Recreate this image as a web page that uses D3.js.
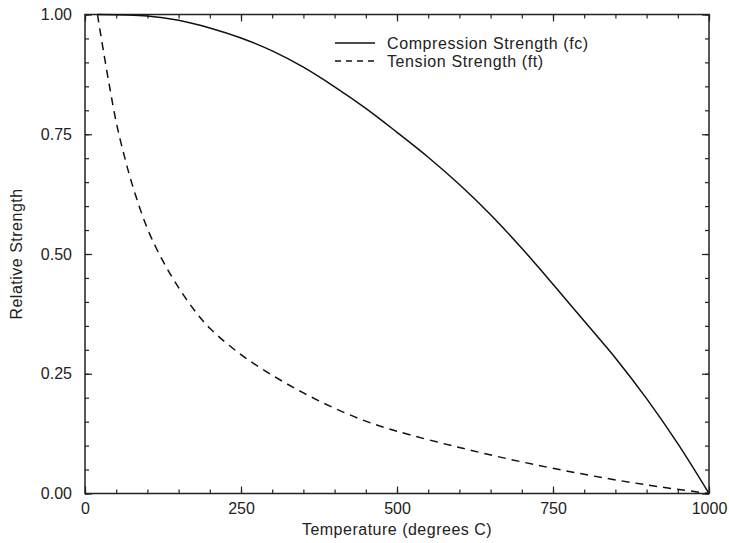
<!DOCTYPE html>
<html>
<head>
<meta charset="utf-8">
<script src="https://cdn.jsdelivr.net/npm/d3@7"></script>
<style>
  body { margin: 0; background: #fff; }
  svg { display: block; }
  text { font-family: "Liberation Sans", Arial, Helvetica, sans-serif; fill: #222; }
</style>
</head>
<body>
<svg id="chart" width="729" height="543"></svg>
<script>
// temperature (degrees C) for each curve
var compTemps = [20, 100, 150, 200, 250, 300, 350, 400, 450, 500, 550, 600, 650, 700, 750, 800, 850, 900, 950, 1000];
var compValues = [1.0, 0.997, 0.988, 0.972, 0.951, 0.924, 0.89, 0.849, 0.804, 0.754, 0.702, 0.645, 0.582, 0.512, 0.437, 0.36, 0.283, 0.198, 0.104, 0.0];

var tensTemps = [20, 30, 40, 50, 60, 75, 100, 125, 150, 175, 200, 250, 300, 350, 400, 450, 500, 600, 700, 800, 900, 1000];
var tensValues = [1.0, 0.92, 0.845, 0.775, 0.72, 0.648, 0.553, 0.485, 0.43, 0.383, 0.345, 0.29, 0.247, 0.21, 0.178, 0.151, 0.13, 0.096, 0.066, 0.04, 0.018, 0.0];

var xTicks = [0, 250, 500, 750, 1000];
var yTicks = [0, 0.25, 0.5, 0.75, 1.0];
var legendLabels = ["Compression Strength (fc)", "Tension Strength (ft)"];

var svg = d3.select("#chart");
var margin = {top: 14.5, right: 20, bottom: 49.5, left: 85};
var width = 729 - margin.left - margin.right,
    height = 543 - margin.top - margin.bottom;

var g = svg.append("g").attr("transform", "translate(" + margin.left + "," + margin.top + ")");

var x = d3.scaleLinear().domain([0, 1000]).range([0, width]);
var y = d3.scaleLinear().domain([0, 1]).range([height, 0]);

function styleAxis(sel) {
    sel.select(".domain").remove();
    sel.selectAll("line").attr("stroke", "#222").attr("stroke-width", 1.2);
    sel.selectAll("text").attr("font-size", 16).style("font-family", "'Liberation Sans', Arial, sans-serif").attr("fill", "#222");
}

// minor ticks (inward) on all four sides
var minorX = d3.range(0, 1001, 50), minorY = d3.range(0, 1.0001, 0.05);
g.append("g").attr("transform", "translate(0," + height + ")")
    .call(d3.axisBottom(x).tickValues(minorX).tickSize(-4).tickFormat("")).call(styleAxis);
g.append("g")
    .call(d3.axisTop(x).tickValues(minorX).tickSize(-4).tickFormat("")).call(styleAxis);
g.append("g")
    .call(d3.axisLeft(y).tickValues(minorY).tickSize(-4).tickFormat("")).call(styleAxis);
g.append("g").attr("transform", "translate(" + width + ",0)")
    .call(d3.axisRight(y).tickValues(minorY).tickSize(-4).tickFormat("")).call(styleAxis);

// major ticks with labels
g.append("g").attr("transform", "translate(0," + height + ")")
    .call(d3.axisBottom(x).tickValues(xTicks).tickSize(-7).tickPadding(9).tickFormat(d3.format("d")))
    .call(styleAxis);
g.append("g")
    .call(d3.axisTop(x).tickValues(xTicks).tickSize(-7).tickFormat("")).call(styleAxis);
g.append("g")
    .call(d3.axisLeft(y).tickValues(yTicks).tickSize(-7).tickPadding(13).tickFormat(d3.format(".2f")))
    .call(styleAxis);
g.append("g").attr("transform", "translate(" + width + ",0)")
    .call(d3.axisRight(y).tickValues(yTicks).tickSize(-7).tickFormat("")).call(styleAxis);

// frame
g.append("rect").attr("width", width).attr("height", height)
    .attr("fill", "none").attr("stroke", "#222").attr("stroke-width", 1.5);

var line = d3.line()
    .x(function(d) { return x(d[0]); })
    .y(function(d) { return y(d[1]); })
    .curve(d3.curveCatmullRom);

g.append("path")
    .datum(d3.zip(compTemps, compValues))
    .attr("d", line)
    .attr("fill", "none").attr("stroke", "#111").attr("stroke-width", 1.5);

g.append("path")
    .datum(d3.zip(tensTemps, tensValues))
    .attr("d", line)
    .attr("fill", "none").attr("stroke", "#111").attr("stroke-width", 1.5)
    .attr("stroke-dasharray", "8,6");

// legend
var legend = svg.append("g").attr("transform", "translate(335,43)");
legendLabels.forEach(function(lbl, i) {
    var row = legend.append("g").attr("transform", "translate(0," + (i * 18) + ")");
    row.append("line").attr("x1", 0).attr("x2", 40)
        .attr("stroke", "#111").attr("stroke-width", 1.3)
        .attr("stroke-dasharray", i === 1 ? "6,5" : null);
    row.append("text").attr("x", 52).attr("y", 5.5)
        .attr("font-size", 16).style("letter-spacing", "0.6px").text(lbl);
});

// axis titles
svg.append("text")
    .attr("x", margin.left + width / 2).attr("y", 535)
    .attr("text-anchor", "middle").attr("font-size", 16).style("letter-spacing", "0.5px")
    .text("Temperature (degrees C)");
svg.append("text")
    .attr("transform", "translate(22," + (margin.top + height / 2) + ") rotate(-90)")
    .attr("text-anchor", "middle").attr("font-size", 16).style("letter-spacing", "0.5px")
    .text("Relative Strength");
</script>
</body>
</html>
